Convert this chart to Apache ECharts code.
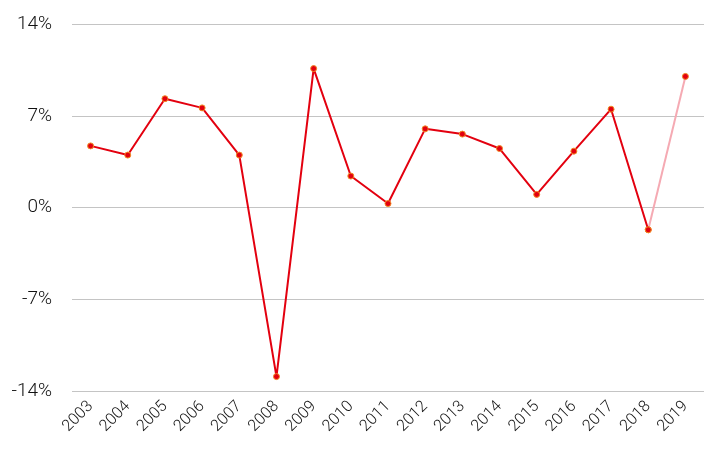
<!DOCTYPE html>
<html>
<head>
<meta charset="UTF-8" />
<script src="https://cdn.jsdelivr.net/npm/echarts@6/dist/echarts.min.js"></script>
<style>
  html, body { margin: 0; padding: 0; width: 100%; height: 100%; background: #fff; overflow: hidden; }
  #chart { width: 727px; height: 455px; }
</style>
</head>
<body>
<div id="chart"></div>
<script>
// years on the x axis
const years = ['2003','2004','2005','2006','2007','2008','2009','2010','2011','2012','2013','2014','2015','2016','2017','2018','2019'];
// annual change, %
const growth = [4.7, 4.0, 8.3, 7.6, 4.0, -12.9, 10.6, 2.4, 0.3, 6.0, 5.6, 4.5, 1.0, 4.3, 7.5, -1.7, 10.0];
// the last step is drawn faded
const solidUntil = '2018';

const cut = years.indexOf(solidUntil);
const solid = growth.map((v, i) => i <= cut ? v : null);
const faded = growth.map((v, i) => i >= cut ? v : null);

const font = 'Roboto, sans-serif';

const chart = echarts.init(document.getElementById('chart'));
chart.setOption({
  animation: false,
  grid: { left: 72, right: 23, top: 24, bottom: 64 },
  xAxis: {
    type: 'category',
    data: years,
    boundaryGap: true,
    axisLine: { show: false },
    axisTick: { show: false },
    axisLabel: { rotate: 45, color: '#111', fontFamily: font, fontWeight: 300, fontSize: 16, margin: 13 }
  },
  yAxis: {
    type: 'value',
    min: -14, max: 14, interval: 7,
    axisLine: { show: false },
    axisTick: { show: false },
    splitLine: { lineStyle: { color: '#c4c4c4', width: 1 } },
    axisLabel: { formatter: '{value}%', color: '#111', fontFamily: font, fontWeight: 300, fontSize: 19, margin: 20 }
  },
  series: [
    {
      type: 'line',
      data: faded,
      symbol: 'circle', symbolSize: 6,
      lineStyle: { color: '#f5aab3', width: 2 },
      itemStyle: { color: '#e3000f', borderColor: '#f08a24', borderWidth: 1 },
      z: 2
    },
    {
      type: 'line',
      data: solid,
      symbol: 'circle', symbolSize: 6,
      lineStyle: { color: '#e3000f', width: 2 },
      itemStyle: { color: '#e3000f', borderColor: '#f08a24', borderWidth: 1 },
      z: 3
    }
  ]
});
</script>
</body>
</html>
